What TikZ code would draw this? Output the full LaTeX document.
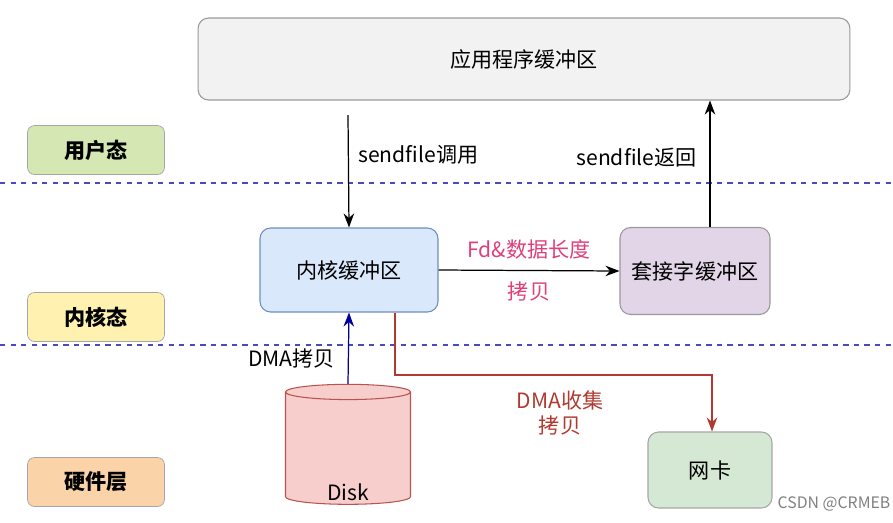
\documentclass[tikz,border=0pt]{standalone}
\usepackage{fontspec}
\setmainfont{Noto Sans CJK SC}
\usetikzlibrary{arrows.meta, positioning, shapes.geometric, calc}
\definecolor{appgray}{HTML}{F2F2F2}
\definecolor{usergreen}{HTML}{D5E8B4}
\definecolor{kernyellow}{HTML}{FFF2B0}
\definecolor{hworange}{HTML}{FAD3A8}
\definecolor{bufblue}{HTML}{DAE8FC}
\definecolor{bufblueline}{HTML}{6C8EBF}
\definecolor{sockpurple}{HTML}{E1D5E7}
\definecolor{diskpink}{HTML}{F8CECC}
\definecolor{diskred}{HTML}{B85450}
\definecolor{nicgreen}{HTML}{D5E8D4}
\definecolor{dashblue}{HTML}{4A4ABF}
\definecolor{lblpink}{HTML}{E0407A}
\definecolor{dmared}{HTML}{B03A30}
\tikzset{
  layer/.style={draw=gray!70, rounded corners=4pt, minimum width=2.74cm, minimum height=0.98cm, font=\large\bfseries},
  buf/.style={draw, rounded corners=6pt, line width=0.6pt, font=\large},
  arr/.style={-{Stealth[length=8pt]}, line width=0.7pt},
}
\begin{document}
\begin{tikzpicture}[x=0.02cm, y=-0.02cm]
  \useasboundingbox (0,0) rectangle (893,522);
  % layers
  \node[layer, fill=usergreen] (user) at (96,150) {用户态};
  \node[layer, fill=kernyellow] (kern) at (96,317) {内核态};
  \node[layer, fill=hworange] (hw) at (96,482) {硬件层};
  \draw[dashblue, dashed, line width=0.6pt] (0,183) -- (893,183);
  \draw[dashblue, dashed, line width=0.6pt] (0,345) -- (893,345);
  % buffers
  \node[buf, fill=appgray, draw=gray!80, minimum width=13.04cm, minimum height=1.64cm] (app) at (524,59) {应用程序缓冲区};
  \node[buf, fill=bufblue, draw=bufblueline, minimum width=3.56cm, minimum height=1.68cm] (kbuf) at (349,270) {内核缓冲区};
  \node[buf, fill=sockpurple, draw=gray!80, minimum width=3.0cm, minimum height=1.74cm] (sbuf) at (695,271) {套接字缓冲区};
  \node[cylinder, shape border rotate=90, aspect=1.3, draw=diskred, fill=diskpink, line width=0.6pt,
    minimum width=2.5cm, minimum height=2.4cm] (disk) at (348,450) {};
  \node[font=\large] (disklbl) at (348,492) {Disk};
  \node[buf, fill=nicgreen, draw=gray!70, minimum width=2.48cm, minimum height=1.52cm] (nic) at (710,470) {网卡};
  % connectors
  \coordinate (callTop) at (348,115);
  \draw[arr] (callTop) -- (kbuf.north) node[pos=0.35, right=2pt, font=\large] {sendfile调用};
  \draw[arr] (sbuf.north -| 710,0) -- (app.south -| 710,0) node[pos=0.55, left=4pt, font=\large] {sendfile返回};
  \draw[arr] (kbuf.east) -- (sbuf.west)
    node[midway, above=3pt, font=\large, text=lblpink] {Fd\&数据长度}
    node[midway, below=3pt, font=\large, text=lblpink] {拷贝};
  \draw[arr, blue!60!black] (disk.north) -- (kbuf.south) node[pos=0.35, left=4pt, font=\large, text=black] {DMA拷贝};
  \draw[arr, dmared] (kbuf.south -| 395,0) |- (712,375) -- (nic.north -| 712,0);
  \node[font=\large, text=dmared, align=center] (dmalbl) at (560,413) {DMA收集\\拷贝};
  \node[font=\small, text=gray] (mark) at (834,504) {CSDN @CRMEB};
\end{tikzpicture}
\end{document}
